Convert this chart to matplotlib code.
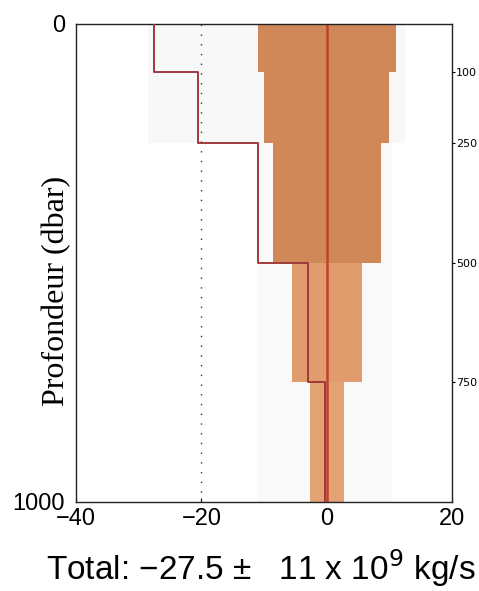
import numpy as np
import matplotlib
matplotlib.use("Agg")
import matplotlib.pyplot as plt

# Layer boundaries (dbar) and cumulative transport integrated from the bottom (1e9 kg/s)
depth_edges = [0, 100, 250, 500, 750, 1000]
cum_transport = [-27.5, -20.5, -11.0, -3.0, -0.3]
cum_error = [11.0, 10.0, 8.6, 5.6, 2.7]
right_ticks = [100, 250, 500, 750]
x_ticks = [-40, -20, 0, 20]
total_value = -27.5
total_error = 11

band_colors = ["#d08858", "#d08858", "#d08858", "#e09c6c", "#e2a273"]

fig = plt.figure(figsize=(4.79, 5.91), dpi=100)
ax = fig.add_axes([0.1587, 0.1506, 0.785, 0.8088])

# faint background patches behind the profile
ax.fill_betweenx([0, 250], -28.5, 12.5, color="#f8f8f8", lw=0, zorder=0)
ax.fill_betweenx([250, 1000], -11, 10.5, color="#f9f9f9", lw=0, zorder=0)

# error envelope per layer, centred on zero
for i in range(len(cum_error)):
    ax.fill_betweenx([depth_edges[i], depth_edges[i + 1]], -cum_error[i], cum_error[i],
                     color=band_colors[i], lw=0, zorder=1)

# reference lines
ax.axvline(0, color="#c0402c", lw=1.8, zorder=2)
ax.axvline(-20, color="#333333", lw=1.0, ls=(0, (1, 6)), zorder=2)

# cumulative transport as a step profile
ys = np.repeat(depth_edges, 2)[1:-1]
xs = np.repeat(cum_transport, 2)
ax.plot(xs, ys, color="#a03a3c", lw=1.4, zorder=3)

ax.set_xlim(-40, 20)
ax.set_ylim(1000, 0)
ax.set_xticks(x_ticks)
ax.set_xticklabels(["\u221240", "\u221220", "0", "20"], family="Liberation Sans", fontsize=17)
ax.set_yticks([0, 1000])
ax.set_yticklabels(["0", "1000"], family="Liberation Sans", fontsize=17)
ax.tick_params(axis="x", direction="in", length=3, pad=4)
ax.tick_params(axis="y", direction="in", length=0, pad=8)
for s in ax.spines.values():
    s.set_linewidth(1.0)
    s.set_color("#222222")

fig.text(0.119, 0.508, "Profondeur (dbar)", rotation=90, ha="center", va="center",
         family="Liberation Serif", fontsize=23)

ax2 = ax.twinx()
ax2.set_ylim(1000, 0)
ax2.set_yticks(right_ticks)
ax2.set_yticklabels([str(t) for t in right_ticks], family="DejaVu Sans", fontsize=8)
ax2.tick_params(axis="y", direction="out", length=2, width=0.8, pad=1)
for s in ax2.spines.values():
    s.set_visible(False)

fig.text(0.545, 0.038,
         f"Total: \u2212{abs(total_value)} \u00b1   {total_error} x 10$^9$ kg/s",
         ha="center", va="center", family="Liberation Sans", fontsize=24)

fig.savefig("out.png", dpi=100)
